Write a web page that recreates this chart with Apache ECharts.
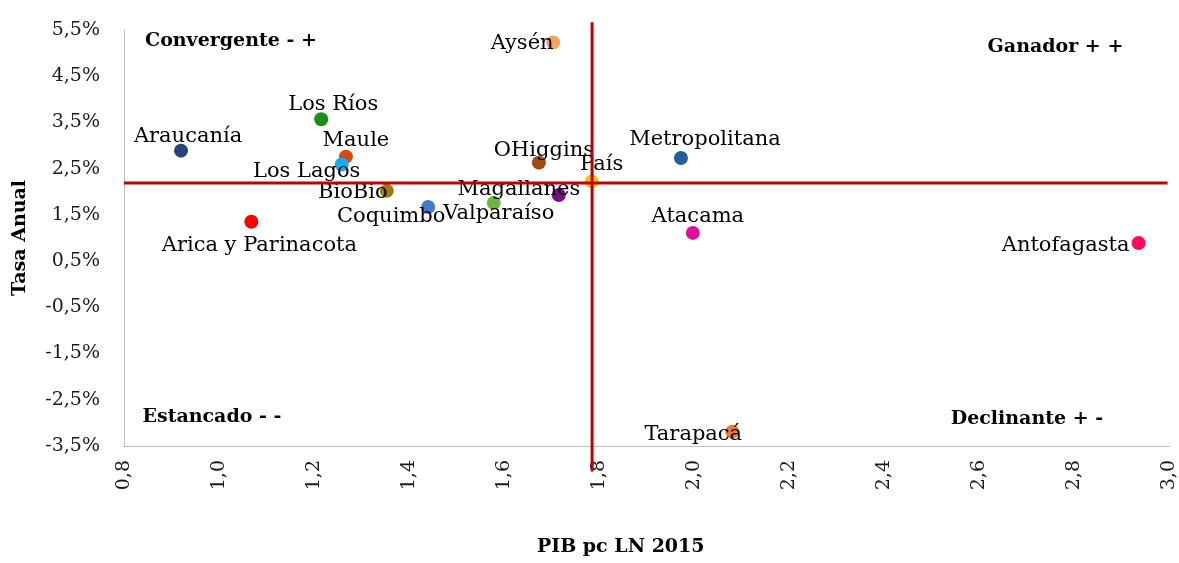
<!DOCTYPE html>
<html>
<head>
<meta charset="utf-8">
<title>Convergencia regional</title>
<script src="https://cdn.jsdelivr.net/npm/echarts@6/dist/echarts.min.js"></script>
<style>
html, body { margin: 0; padding: 0; background: #fff; }
#chart { width: 1179px; height: 563px; }
</style>
</head>
<body>
<div id="chart"></div>
<script>
// datos por region
var regiones = ['Araucanía', 'Arica y Parinacota', 'Los Ríos', 'Maule', 'Los Lagos', 'BioBio', 'Coquimbo', 'Valparaíso',
    'Magallanes', 'OHiggins', 'Aysén', 'País', 'Metropolitana', 'Atacama', 'Antofagasta', 'Tarapacá'];
var pibPc = [0.92, 1.068, 1.215, 1.267, 1.258, 1.353, 1.44, 1.578, 1.715, 1.673, 1.703, 1.784, 1.972, 1.997, 2.935, 2.08];
var tasaAnual = [2.89, 1.35, 3.57, 2.76, 2.59, 2.02, 1.67, 1.76, 1.93, 2.63, 5.23, 2.22, 2.73, 1.11, 0.89, -3.19];
var colores = ['#264478', '#ff0000', '#1a8f1a', '#d9480f', '#12aef0', '#9c7a12', '#4678cc', '#70b544',
    '#7a0a88', '#9e4a10', '#f4a460', '#ffc000', '#22609c', '#e0109f', '#ff0a5a', '#ef7a2c'];

// textos de cuadrantes
var cuadrantes = ['Convergente - +', 'Ganador + +', 'Estancado - -', 'Declinante + -'];
var cuadX = [1.025, 2.76, 0.985, 2.70];
var cuadY = [5.25, 5.14, -2.87, -2.91];

// lineas del promedio pais
var lineaX = 1.785;
var lineaY = 2.19;

// desplazamiento de etiquetas (px)
var desplaza = {
    'Araucanía': [7, -14], 'Arica y Parinacota': [8, 24], 'Los Ríos': [12, -15], 'Maule': [10, -16],
    'Los Lagos': [-35, 7], 'BioBio': [-34, 2], 'Coquimbo': [-37, 10], 'Valparaíso': [5, 11],
    'Magallanes': [-40, -5], 'OHiggins': [5, -12], 'Aysén': [-31, 1], 'País': [10, -17],
    'Metropolitana': [24, -18], 'Atacama': [5, -16], 'Antofagasta': [-73, 2], 'Tarapacá': [-39, 3]
};

var fuente = 'DejaVu Serif';

var puntos = regiones.map(function (r, i) {
    return {
        name: r,
        value: [pibPc[i], tasaAnual[i]],
        itemStyle: { color: colores[i], opacity: 1 },
        label: { offset: desplaza[r] }
    };
});

var textos = cuadrantes.map(function (t, i) {
    return { name: t, value: [cuadX[i], cuadY[i]] };
});

function coma(v, d) {
    return v.toFixed(d).replace('.', ',');
}

var myChart = echarts.init(document.getElementById('chart'));
var option = {
    animation: false,
    grid: { left: 124, right: 9, top: 30, bottom: 117 },
    xAxis: {
        type: 'value',
        min: 0.8,
        max: 3.0,
        interval: 0.2,
        name: 'PIB pc LN 2015',
        nameLocation: 'middle',
        nameGap: 92,
        nameTextStyle: { fontFamily: fuente, fontWeight: 'bold', fontSize: 19, color: '#000', padding: [0, 52, 0, 0] },
        axisLine: { onZero: false, lineStyle: { color: '#bfbfbf', width: 1 } },
        axisTick: { show: false },
        splitLine: { show: false },
        axisLabel: {
            rotate: 90,
            margin: 14,
            fontFamily: fuente,
            fontSize: 19,
            color: '#1a1a1a',
            formatter: function (v) { return coma(v, 1); }
        }
    },
    yAxis: {
        type: 'value',
        min: -3.5,
        max: 5.5,
        interval: 0.5,
        name: 'Tasa Anual',
        nameLocation: 'middle',
        nameGap: 94,
        nameTextStyle: { fontFamily: fuente, fontWeight: 'bold', fontSize: 19, color: '#000' },
        axisLine: { show: true, onZero: false, lineStyle: { color: '#bfbfbf', width: 1 } },
        axisTick: { show: false },
        splitLine: { show: false },
        axisLabel: {
            margin: 24,
            fontFamily: fuente,
            fontSize: 19,
            color: '#1a1a1a',
            formatter: function (v) {
                if (Math.abs(Math.round(v * 10)) % 10 !== 5) return '';
                return coma(v, 1) + '%';
            }
        }
    },
    series: [
        {
            type: 'scatter',
            symbolSize: 14,
            z: 2,
            itemStyle: { opacity: 1 },
            data: puntos,
            label: {
                show: true,
                position: 'inside',
                formatter: '{b}',
                fontFamily: fuente,
                fontSize: 21,
                color: '#000'
            }
        },
        {
            type: 'scatter',
            symbolSize: 0,
            z: 4,
            itemStyle: { opacity: 1 },
            data: textos,
            label: {
                show: true,
                position: 'inside',
                formatter: '{b}',
                fontFamily: fuente,
                fontWeight: 'bold',
                fontSize: 19,
                color: '#000'
            }
        },
        {
            // linea vertical
            type: 'line',
            z: 3,
            clip: false,
            symbol: 'none',
            lineStyle: { color: '#c00000', width: 3 },
            data: [[lineaX, -4.05], [lineaX, 5.67]]
        },
        {
            // linea horizontal
            type: 'line',
            z: 3,
            clip: false,
            symbol: 'none',
            lineStyle: { color: '#c00000', width: 3 },
            data: [[0.8, lineaY], [2.996, lineaY]]
        }
    ]
};
myChart.setOption(option);
window.onresize = myChart.resize;
</script>
</body>
</html>
